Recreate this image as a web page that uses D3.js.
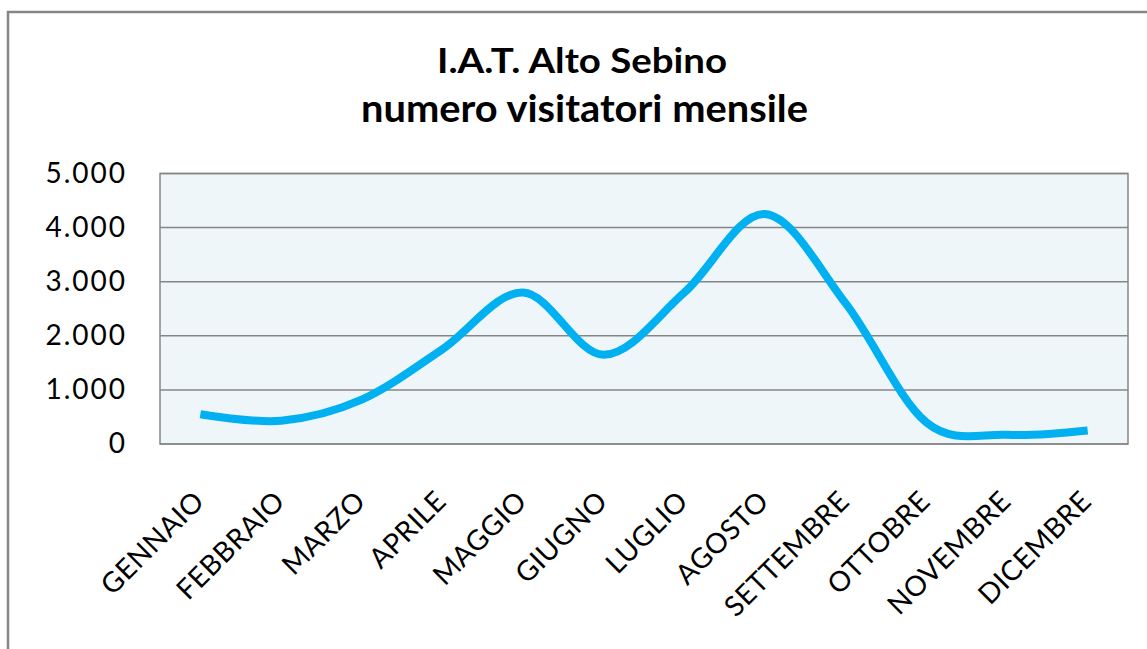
<!DOCTYPE html>
<html lang="it">
<head>
  <meta charset="UTF-8" />
  <title>I.A.T. Alto Sebino</title>
  <script src="https://cdn.jsdelivr.net/npm/d3@7"></script>
  <style>
    body { margin: 0; background: #fff; }
    text { font-family: Lato, "Open Sans", sans-serif; fill: #000; }
  </style>
</head>
<body>
<script>
  // data
  const months = ["GENNAIO", "FEBBRAIO", "MARZO", "APRILE", "MAGGIO", "GIUGNO",
                  "LUGLIO", "AGOSTO", "SETTEMBRE", "OTTOBRE", "NOVEMBRE", "DICEMBRE"];
  const visitors = [550, 430, 820, 1750, 2800, 1650, 2800, 4250, 2600, 400, 170, 250];
  const yTicks = [0, 1000, 2000, 3000, 4000, 5000];
  const titleLines = ["I.A.T. Alto Sebino", "numero visitatori mensile"];

  const width = 1147;
  const height = 649;
  const plot = { left: 160, right: 1128, top: 173.5, bottom: 444 };

  const svg = d3.select('body')
      .append('svg')
      .attr('width', width)
      .attr('height', height);

  // outer frame (runs off the right and bottom of the picture)
  svg.append('rect')
      .attr('x', 8).attr('y', 12)
      .attr('width', 1300).attr('height', 800)
      .attr('fill', '#fff')
      .attr('stroke', '#868686')
      .attr('stroke-width', 2.5);

  // title, two bold lines
  svg.append('text')
      .attr('x', 582).attr('y', 73)
      .attr('text-anchor', 'middle')
      .attr('textLength', 290)
      .attr('lengthAdjust', 'spacingAndGlyphs')
      .style('font-size', '34px')
      .style('font-weight', 'bold')
      .text(titleLines[0]);
  svg.append('text')
      .attr('x', 584.5).attr('y', 122)
      .attr('text-anchor', 'middle')
      .attr('textLength', 447)
      .attr('lengthAdjust', 'spacingAndGlyphs')
      .style('font-size', '38px')
      .style('font-weight', 'bold')
      .text(titleLines[1]);

  const x = d3.scalePoint()
      .domain(months)
      .range([plot.left, plot.right])
      .padding(0.5);

  const y = d3.scaleLinear()
      .domain([0, 5000])
      .range([plot.bottom, plot.top]);

  // plot background
  svg.append('rect')
      .attr('x', plot.left).attr('y', plot.top)
      .attr('width', plot.right - plot.left)
      .attr('height', plot.bottom - plot.top)
      .attr('fill', '#eef6f9');

  // gridlines
  svg.append('g')
    .selectAll('line')
    .data(yTicks)
    .join('line')
      .attr('x1', plot.left).attr('x2', plot.right)
      .attr('y1', d => y(d)).attr('y2', d => y(d))
      .attr('stroke', '#868686')
      .attr('stroke-width', 1.5);

  // plot border
  svg.append('rect')
      .attr('x', plot.left).attr('y', plot.top)
      .attr('width', plot.right - plot.left)
      .attr('height', plot.bottom - plot.top)
      .attr('fill', 'none')
      .attr('stroke', '#868686')
      .attr('stroke-width', 1.5);

  // y axis labels (Italian thousands separator)
  const fmt = d3.formatLocale({ decimal: ',', thousands: '.', grouping: [3], currency: ['', '€'] }).format(',');
  const yAxis = d3.axisLeft(y).tickValues(yTicks).tickSize(0).tickPadding(33).tickFormat(fmt);
  const gy = svg.append('g')
      .attr('transform', `translate(${plot.left},0)`)
      .call(yAxis);
  gy.select('.domain').remove();
  gy.selectAll('text')
      .style('font-size', '28px')
      .style('letter-spacing', '2px')
      .style('font-family', 'Lato, "Open Sans", sans-serif');

  // x axis labels, rotated
  const xAxis = d3.axisBottom(x).tickSize(0).tickPadding(0);
  const gx = svg.append('g')
      .attr('transform', `translate(0,${plot.bottom})`)
      .call(xAxis);
  gx.select('.domain').remove();
  gx.selectAll('text')
      .attr('y', 0).attr('dy', 0)
      .attr('text-anchor', 'end')
      .attr('transform', 'translate(5,59) rotate(-45)')
      .style('font-size', '28px')
      .style('letter-spacing', '0.5px')
      .style('font-family', 'Lato, "Open Sans", sans-serif');

  // smoothed line
  const line = d3.line()
      .x((d, i) => x(months[i]))
      .y(d => y(d))
      .curve(d3.curveCardinal.tension(0));

  svg.append('path')
      .datum(visitors)
      .attr('d', line)
      .attr('fill', 'none')
      .attr('stroke', '#00b0f0')
      .attr('stroke-width', 8)
      .attr('stroke-linecap', 'butt');
</script>
</body>
</html>
